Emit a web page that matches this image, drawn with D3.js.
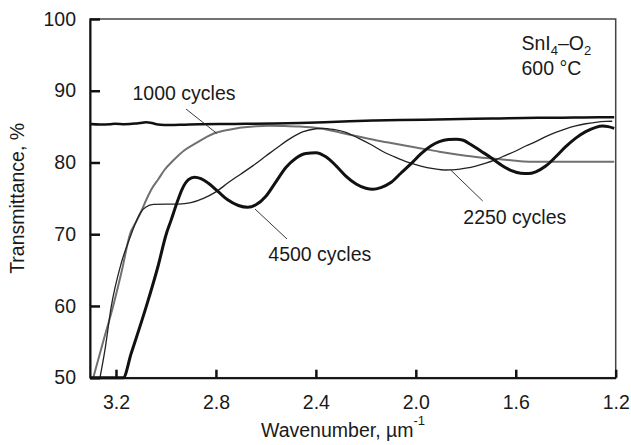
<!DOCTYPE html>
<html>
<head>
<meta charset="utf-8">
<script src="https://cdn.jsdelivr.net/npm/d3@7"></script>
<style>
  html, body { margin: 0; padding: 0; background: #fff; }
  svg { display: block; }
  text { font-family: "Liberation Sans", Arial, sans-serif; fill: #1a1a1a; }
</style>
</head>
<body>
<svg id="chart" width="631" height="445"></svg>
<script>
// ---- data (wavenumber µm^-1, transmittance %) ----
const substrateWn = [3.304, 3.264, 3.224, 3.204, 3.164, 3.124, 3.104, 3.080, 3.056, 3.032, 2.984, 2.925, 2.865, 2.785, 2.665, 2.565, 2.465, 2.365, 2.265, 2.165, 2.066, 1.966, 1.866, 1.766, 1.666, 1.566, 1.466, 1.366, 1.266, 1.206];
const substrateT  = [85.36, 85.29, 85.33, 85.39, 85.34, 85.42, 85.50, 85.60, 85.50, 85.29, 85.22, 85.27, 85.32, 85.36, 85.39, 85.44, 85.50, 85.60, 85.74, 85.84, 85.92, 85.97, 86.02, 86.08, 86.13, 86.20, 86.23, 86.27, 86.30, 86.30];

const c1000Wn = [3.291, 3.250, 3.212, 3.176, 3.144, 3.120, 3.100, 3.080, 3.059, 3.030, 3.006, 2.970, 2.926, 2.880, 2.840, 2.806, 2.760, 2.720, 2.686, 2.640, 2.593, 2.530, 2.465, 2.420, 2.373, 2.300, 2.225, 2.160, 2.093, 2.000, 1.906, 1.800, 1.706, 1.620, 1.546, 1.400, 1.206];
const c1000T  = [50.0, 55.2, 59.9, 65.0, 70.0, 71.7, 73.1, 74.7, 76.2, 77.7, 78.95, 80.3, 81.7, 82.7, 83.5, 84.07, 84.5, 84.75, 84.9, 85.05, 85.13, 85.1, 85.02, 84.9, 84.7, 84.15, 83.59, 83.1, 82.67, 82.1, 81.5, 80.95, 80.58, 80.3, 80.11, 80.1, 80.11];

const c2250Wn = [3.264, 3.244, 3.219, 3.179, 3.139, 3.120, 3.100, 3.080, 3.050, 3.000, 2.950, 2.900, 2.850, 2.800, 2.750, 2.700, 2.650, 2.600, 2.550, 2.500, 2.450, 2.400, 2.372, 2.330, 2.280, 2.230, 2.180, 2.130, 2.080, 2.030, 1.980, 1.930, 1.880, 1.840, 1.800, 1.760, 1.720, 1.680, 1.640, 1.600, 1.560, 1.520, 1.480, 1.440, 1.400, 1.360, 1.320, 1.280, 1.240, 1.214];
const c2250T  = [50.0, 53.9, 59.9, 65.95, 70.0, 71.7, 73.1, 73.8, 74.15, 74.2, 74.2, 74.4, 75.0, 75.9, 77.2, 78.4, 79.6, 80.9, 82.2, 83.4, 84.3, 84.7, 84.76, 84.6, 84.2, 83.4, 82.5, 81.5, 80.7, 80.0, 79.5, 79.15, 78.95, 79.0, 79.2, 79.5, 79.9, 80.4, 81.0, 81.6, 82.3, 82.9, 83.6, 84.2, 84.7, 85.1, 85.4, 85.6, 85.72, 85.75];

const c4500Wn = [3.304, 3.171, 3.139, 3.079, 3.032, 2.999, 2.979, 2.955, 2.935, 2.910, 2.886, 2.860, 2.830, 2.790, 2.753, 2.710, 2.673, 2.640, 2.600, 2.560, 2.520, 2.480, 2.440, 2.400, 2.360, 2.318, 2.280, 2.239, 2.200, 2.172, 2.140, 2.100, 2.060, 2.020, 1.980, 1.940, 1.906, 1.870, 1.839, 1.810, 1.780, 1.740, 1.700, 1.660, 1.620, 1.580, 1.550, 1.520, 1.480, 1.440, 1.400, 1.360, 1.320, 1.280, 1.253, 1.230, 1.206];
const c4500T  = [50.0, 50.0, 53.4, 59.9, 65.5, 70.0, 72.0, 74.5, 76.3, 77.6, 77.95, 77.75, 77.1, 75.9, 74.8, 74.0, 73.75, 74.1, 75.3, 77.3, 79.3, 80.6, 81.25, 81.36, 80.8, 79.5, 78.1, 77.0, 76.4, 76.26, 76.5, 77.2, 78.5, 79.8, 81.2, 82.3, 82.9, 83.2, 83.25, 83.1, 82.5, 81.6, 80.7, 79.7, 78.9, 78.5, 78.45, 78.7, 79.5, 80.8, 82.2, 83.4, 84.3, 84.9, 85.08, 85.0, 84.76];

const xTicks = [3.2, 2.8, 2.4, 2.0, 1.6, 1.2];
const yTicks = [50, 60, 70, 80, 90, 100];

// ---- layout ----
const svg = d3.select("#chart");
const mLeft = 90, mRight = 615.7, mTop = 19, mBottom = 377.7;
const x = d3.scaleLinear().domain([3.304, 1.2]).range([mLeft, mRight]);
const y = d3.scaleLinear().domain([50, 100]).range([mBottom, mTop]);
const fs = 19.5;

// frame (top/right)
svg.append("rect")
  .attr("x", mLeft).attr("y", mTop)
  .attr("width", mRight - mLeft).attr("height", mBottom - mTop)
  .attr("fill", "none").attr("stroke", "#444").attr("stroke-width", 1.5);

// lines
const line = d3.line().x(d => x(d[0])).y(d => y(d[1])).curve(d3.curveMonotoneX);
const zip = (a, b) => a.map((v, i) => [v, b[i]]);

const g = svg.append("g");
g.append("path").datum(zip(c1000Wn, c1000T)).attr("d", line)
  .attr("fill", "none").attr("stroke", "#707070").attr("stroke-width", 2);
g.append("path").datum(zip(c2250Wn, c2250T)).attr("d", line)
  .attr("fill", "none").attr("stroke", "#222").attr("stroke-width", 1.3);
g.append("path").datum(zip(c4500Wn, c4500T)).attr("d", line)
  .attr("fill", "none").attr("stroke", "#111").attr("stroke-width", 3);
g.append("path").datum(zip(substrateWn, substrateT)).attr("d", line)
  .attr("fill", "none").attr("stroke", "#111").attr("stroke-width", 2.5);

// axes
const xAxis = d3.axisBottom(x).tickValues(xTicks).tickFormat(d3.format(".1f"))
  .tickSizeInner(-8).tickSizeOuter(0).tickPadding(17);
const yAxis = d3.axisLeft(y).tickValues(yTicks).tickFormat(d3.format("d"))
  .tickSizeInner(-10).tickSizeOuter(0).tickPadding(14);

const gx = svg.append("g").attr("transform", `translate(0,${mBottom})`).call(xAxis);
const gy = svg.append("g").attr("transform", `translate(${mLeft},0)`).call(yAxis);
[gx, gy].forEach(a => {
  a.select(".domain").attr("stroke", "#111").attr("stroke-width", 2);
  a.selectAll(".tick line").attr("stroke", "#111").attr("stroke-width", 2.5);
  a.selectAll(".tick text").attr("font-size", fs).attr("fill", "#1a1a1a")
    .style("font-family", "'Liberation Sans', Arial, sans-serif");
});

// axis titles
const xt = svg.append("text").attr("x", 261).attr("y", 437).attr("font-size", fs);
xt.append("tspan").text("Wavenumber, \u00B5m");
xt.append("tspan").attr("dy", -12).attr("font-size", 13).text("-1");

svg.append("text")
  .attr("transform", `translate(24,${(mTop + mBottom) / 2}) rotate(-90)`)
  .attr("text-anchor", "middle").attr("font-size", fs)
  .text("Transmittance, %");

// annotation top right
const ann = svg.append("text").attr("x", 521.5).attr("y", 50).attr("font-size", fs);
ann.append("tspan").text("SnI");
ann.append("tspan").attr("dy", 5).attr("font-size", 13).text("4");
ann.append("tspan").attr("dy", -5).text("\u2013O");
ann.append("tspan").attr("dy", 5).attr("font-size", 13).text("2");
svg.append("text").attr("x", 521.5).attr("y", 75).attr("font-size", fs).text("600 \u00B0C");

// series labels with leaders
const labels = [
  { t: "1000 cycles", tx: 132.5, ty: 100, x1: 186, y1: 109, x2: 216.7, y2: 133.3 },
  { t: "4500 cycles", tx: 268.3, ty: 261, x1: 255, y1: 209, x2: 287, y2: 239 },
  { t: "2250 cycles", tx: 463.3, ty: 224, x1: 450.7, y1: 170, x2: 482.7, y2: 201 }
];
labels.forEach(l => {
  svg.append("line").attr("x1", l.x1).attr("y1", l.y1).attr("x2", l.x2).attr("y2", l.y2)
    .attr("stroke", "#222").attr("stroke-width", 0.9);
  svg.append("text").attr("x", l.tx).attr("y", l.ty).attr("font-size", fs).text(l.t);
});
</script>
</body>
</html>
